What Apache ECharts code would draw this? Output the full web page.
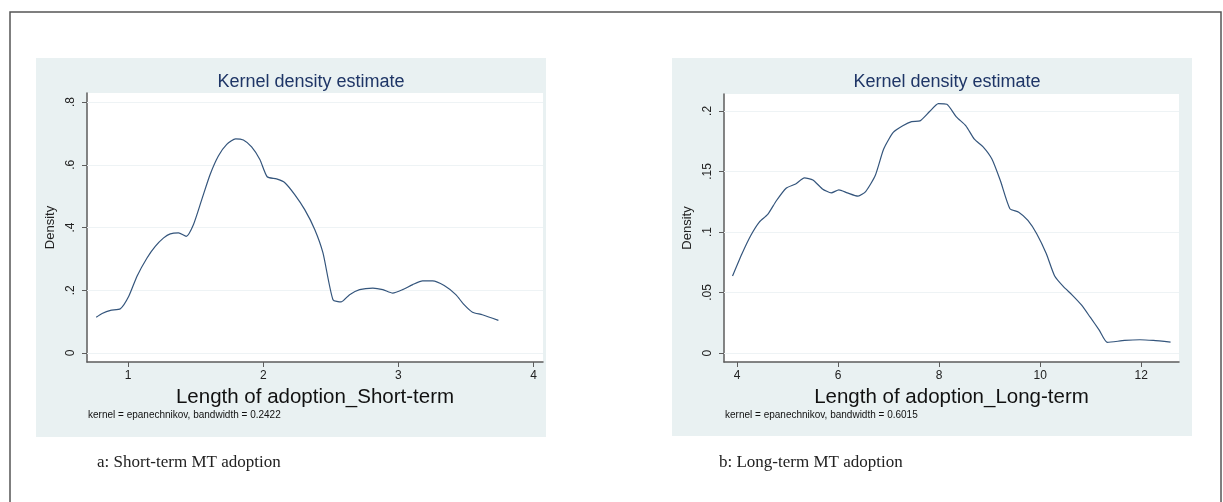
<!DOCTYPE html>
<html>
<head>
<meta charset="utf-8">
<title>Kernel density estimate</title>
<script src="https://cdn.jsdelivr.net/npm/echarts@6/dist/echarts.min.js"></script>
<style>
    html, body { margin: 0; padding: 0; background: #fff; }
    #main { width: 1223px; height: 502px; }
</style>
</head>
<body>
<div id="main"></div>
<script>
// Short-term adoption density
const shortX = [0.764, 0.808, 0.870, 0.943, 1.005, 1.066, 1.140, 1.201, 1.263, 1.312, 1.373, 1.430,
    1.484, 1.545, 1.607, 1.668, 1.730, 1.796, 1.853, 1.914, 1.975, 2.029, 2.098, 2.160, 2.233,
    2.307, 2.381, 2.442, 2.516, 2.577, 2.639, 2.713, 2.811, 2.885, 2.958, 3.032, 3.106, 3.179,
    3.253, 3.339, 3.425, 3.486, 3.548, 3.621, 3.740];
const shortY = [0.114, 0.126, 0.136, 0.141, 0.181, 0.245, 0.303, 0.340, 0.367, 0.380, 0.383, 0.372,
    0.410, 0.489, 0.569, 0.628, 0.665, 0.683, 0.679, 0.657, 0.617, 0.562, 0.555, 0.543, 0.505,
    0.457, 0.394, 0.319, 0.170, 0.163, 0.186, 0.202, 0.207, 0.202, 0.191, 0.202, 0.218, 0.230,
    0.230, 0.215, 0.186, 0.154, 0.130, 0.122, 0.104];

// Long-term adoption density
const longX = [3.909, 4.098, 4.273, 4.439, 4.606, 4.780, 4.970, 5.159, 5.333, 5.500, 5.689, 5.864,
    6.015, 6.182, 6.394, 6.545, 6.735, 6.902, 7.091, 7.280, 7.455, 7.621, 7.811, 7.985, 8.152,
    8.341, 8.530, 8.697, 8.871, 9.045, 9.212, 9.402, 9.576, 9.758, 9.932, 10.121, 10.288, 10.462,
    10.636, 10.818, 10.992, 11.167, 11.333, 11.674, 11.977, 12.242, 12.583];
const longY = [0.0636, 0.0822, 0.0973, 0.1082, 0.1145, 0.1260, 0.1362, 0.1397, 0.1447, 0.1430, 0.1356, 0.1323,
    0.1348, 0.1323, 0.1296, 0.1334, 0.1466, 0.1685, 0.1822, 0.1877, 0.1912, 0.1918, 0.1995, 0.2060, 0.2055,
    0.1951, 0.1877, 0.1767, 0.1704, 0.1603, 0.1425, 0.1192, 0.1164, 0.1096, 0.0986, 0.0822, 0.0636, 0.0548,
    0.0479, 0.0397, 0.0296, 0.0192, 0.0088, 0.0104, 0.0110, 0.0104, 0.0090];

// Tick values
const shortXTicks = [1, 2, 3, 4];
const shortYTicks = [0, 0.2, 0.4, 0.6, 0.8];
const longXTicks = [4, 6, 8, 10, 12];
const longYTicks = [0, 0.05, 0.1, 0.15, 0.2];

// Texts
const plotTitle = 'Kernel density estimate';
const yName = 'Density';
const xNames = ['Length of adoption_Short-term', 'Length of adoption_Long-term'];
const notes = ['kernel = epanechnikov, bandwidth = 0.2422', 'kernel = epanechnikov, bandwidth = 0.6015'];
const captions = ['a: Short-term MT adoption', 'b: Long-term MT adoption'];

const SANS = "'Liberation Sans', Arial, sans-serif";
const SERIF = "'Liberation Serif', 'Times New Roman', serif";
const AXIS_COLOR = '#5c5c5c';
const LINE_COLOR = '#34557c';
const GRID_LINE = '#eef3f5';

const chart = echarts.init(document.getElementById('main'));

function stataLabel(v) {
    if (v === 0) return '0';
    return String(v).replace(/^0\./, '.');
}

function makeX(idx, min, max, ticks, name) {
    return {
        type: 'value', gridIndex: idx, min: min, max: max,
        name: name, nameLocation: 'middle', nameGap: 19,
        nameTextStyle: { fontFamily: SANS, fontSize: 20.5, color: '#111' },
        axisLine: { show: true, onZero: false, lineStyle: { color: AXIS_COLOR, width: 1.5 } },
        axisTick: { show: true, length: 5, customValues: ticks, lineStyle: { color: AXIS_COLOR, width: 1 } },
        axisLabel: { customValues: ticks, margin: 8, fontFamily: SANS, fontSize: 12, color: '#222' },
        splitLine: { show: false }
    };
}

function makeY(idx, min, max, ticks) {
    return {
        type: 'value', gridIndex: idx, min: min, max: max,
        name: yName, nameLocation: 'middle', nameGap: 30, nameRotate: 90,
        nameTextStyle: { fontFamily: SANS, fontSize: 13, color: '#222' },
        axisLine: { show: true, onZero: false, lineStyle: { color: AXIS_COLOR, width: 1.5 } },
        axisTick: { show: true, length: 5, customValues: ticks, lineStyle: { color: AXIS_COLOR, width: 1 } },
        axisLabel: {
            customValues: ticks, rotate: 90, margin: 10,
            fontFamily: SANS, fontSize: 12, color: '#222',
            formatter: stataLabel
        },
        splitLine: { show: false }
    };
}

function makeSeries(idx, xs, ys, ticks) {
    return {
        type: 'line', xAxisIndex: idx, yAxisIndex: idx,
        data: xs.map((x, i) => [x, ys[i]]),
        showSymbol: false, smooth: 0.2,
        lineStyle: { color: LINE_COLOR, width: 1.2 },
        markLine: {
            silent: true, symbol: 'none', label: { show: false }, z: 1,
            lineStyle: { color: GRID_LINE, width: 1, type: 'solid' },
            data: ticks.map(t => ({ yAxis: t }))
        },
        z: 3
    };
}

function text(x, y, str, style, align) {
    return {
        type: 'text', x: x, y: y,
        style: Object.assign({ text: str, textAlign: align || 'left', textVerticalAlign: 'middle' }, style)
    };
}

const option = {
    backgroundColor: '#ffffff',
    animation: false,
    grid: [
        { left: 87, top: 93, width: 456, height: 269, show: true, backgroundColor: '#ffffff', borderWidth: 0 },
        { left: 724, top: 94, width: 455, height: 268, show: true, backgroundColor: '#ffffff', borderWidth: 0 }
    ],
    xAxis: [
        makeX(0, 0.696, 4.07, shortXTicks, xNames[0]),
        makeX(1, 3.74, 12.75, longXTicks, xNames[1])
    ],
    yAxis: [
        makeY(0, -0.0287, 0.829, shortYTicks),
        makeY(1, -0.0074, 0.214, longYTicks)
    ],
    series: [
        makeSeries(0, shortX, shortY, shortYTicks),
        makeSeries(1, longX, longY, longYTicks)
    ],
    graphic: [
        // outer frame
        { type: 'rect', z: -20, shape: { x: 10, y: 12, width: 1211, height: 500 },
          style: { fill: '#ffffff', stroke: '#555', lineWidth: 1.5 } },
        // panel backgrounds
        { type: 'rect', z: -10, shape: { x: 36, y: 58, width: 510, height: 379 }, style: { fill: '#e9f1f2' } },
        { type: 'rect', z: -10, shape: { x: 672, y: 58, width: 520, height: 378 }, style: { fill: '#e9f1f2' } },
        // titles
        text(311, 82, plotTitle, { fontFamily: SANS, fontSize: 18, fill: '#1e3566' }, 'center'),
        text(947, 82, plotTitle, { fontFamily: SANS, fontSize: 18, fill: '#1e3566' }, 'center'),
        // notes
        text(88, 415, notes[0], { fontFamily: SANS, fontSize: 10, fill: '#111' }),
        text(725, 415, notes[1], { fontFamily: SANS, fontSize: 10, fill: '#111' }),
        // captions
        text(97, 463, captions[0], { fontFamily: SERIF, fontSize: 17, fill: '#222' }),
        text(719, 463, captions[1], { fontFamily: SERIF, fontSize: 17, fill: '#222' })
    ]
};

chart.setOption(option);
</script>
</body>
</html>
